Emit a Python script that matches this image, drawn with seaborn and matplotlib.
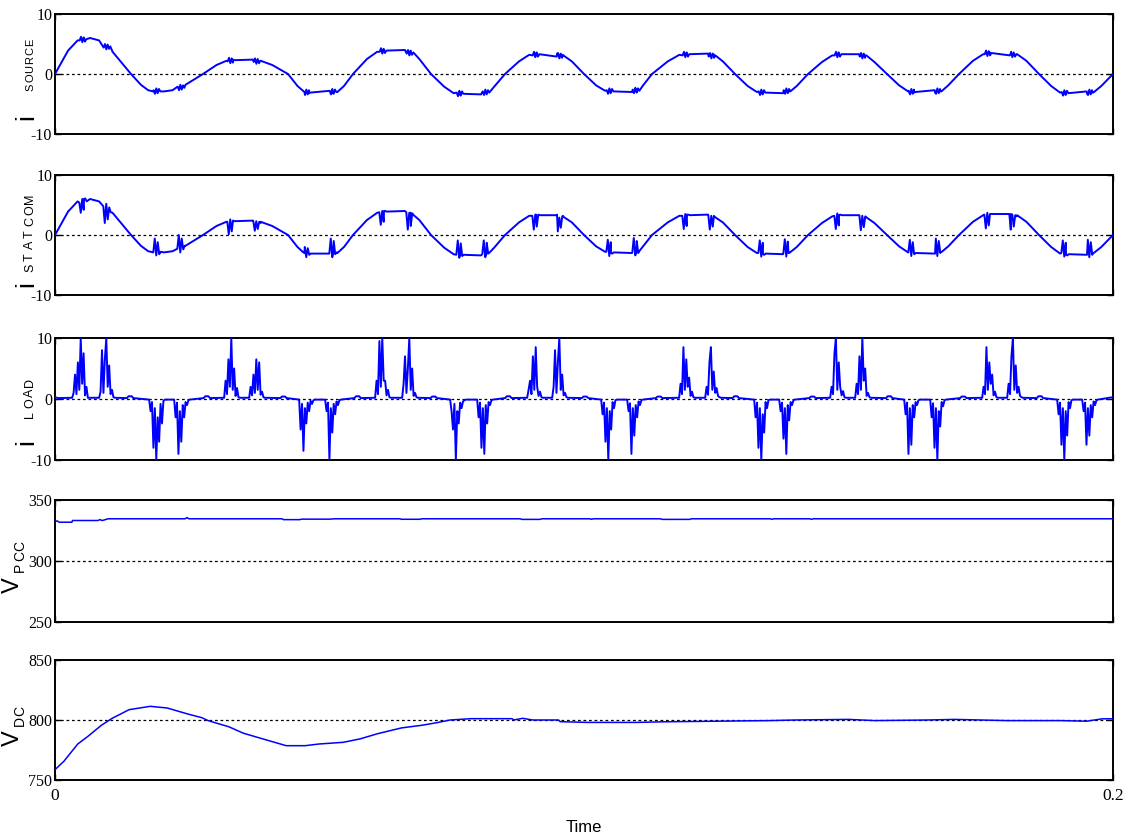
import numpy as np
import pandas as pd
import matplotlib
matplotlib.use("Agg")
import matplotlib.pyplot as plt
import seaborn as sns

# ---------------- data (time in ms) ----------------
src_t = [0, 2.47, 4.27, 5.48, 6.62, 8.33, 10.88, 14.37, 16.24, 17.61, 18.53, 20.61, 22.23, 24.66, 27.98,
         30.53, 32.40, 33.65, 37.43, 38.89, 41.07, 44.05, 45.84, 47.15, 48.02, 52.55, 53.38, 54.63, 56.33,
         58.97, 60.90, 62.19, 66.16, 67.24, 68.87, 71.08, 73.55, 75.35, 76.56, 80.53, 81.53, 83.03, 85.07,
         87.71, 89.64, 90.93, 94.90, 96.02, 97.71, 100.0, 102.30, 103.99, 105.11, 109.08, 109.91, 111.16, 112.86,
         115.83, 118.02, 119.47, 123.44, 124.56, 126.25, 128.55, 130.93, 132.68, 133.84, 137.62, 138.66, 140.22, 142.35,
         144.99, 146.92, 148.21, 151.99, 153.15, 154.90, 157.28, 159.58, 161.27, 162.39, 166.36, 167.36, 168.85, 170.89,
         173.53, 175.46, 176.75, 180.72, 181.88, 183.63, 186.01, 188.31, 190.0, 191.12, 195.09, 196.17, 197.79, 200.0]
src_v = [0, 3.9, 5.6, 6.0, 6.0, 5.6, 3.7, 0, -1.8, -2.7, -2.9, -2.9, -2.7, -1.8, 0,
         1.5, 2.2, 2.4, 2.4, 2.2, 1.5, 0, -2.0, -3.0, -3.2, -3.2, -3.0, -2.0, 0,
         2.5, 3.7, 4.0, 4.0, 3.7, 2.5, 0, -2.1, -3.2, -3.4, -3.4, -3.2, -2.1, 0,
         2.1, 3.2, 3.4, 3.4, 3.2, 2.1, 0, -1.9, -2.8, -3.0, -3.0, -2.8, -1.9, 0,
         2.1, 3.2, 3.4, 3.4, 3.2, 2.1, 0, -2.0, -3.0, -3.2, -3.2, -3.0, -2.0, 0,
         2.0, 3.1, 3.3, 3.3, 3.1, 2.0, 0, -1.9, -2.9, -3.1, -3.1, -2.9, -1.9, 0,
         2.2, 3.3, 3.5, 3.5, 3.3, 2.2, 0, -2.0, -3.1, -3.3, -3.3, -3.1, -2.0, 0]

# times (ms) of the switching events where both currents show ripple / bursts
burst_centers = [5.29, 9.83, 19.28, 23.82, 33.27, 38.19, 47.64, 52.55, 62.00, 67.11, 76.56, 81.47, 90.93, 95.47,
                 104.92, 109.83, 119.28, 124.20, 133.65, 138.38, 148.02, 152.75, 162.01, 166.93, 176.38, 181.10,
                 190.93, 195.66]
# small ripple on the source current
src_ripple = [
    [5.6, 6.2, 5.3, 6.1, 5.4, 5.8], [4.4, 5.0, 4.1, 4.9, 4.2, 4.6],
    [-2.7, -3.3, -2.4, -3.2, -2.5, -2.9], [-2.1, -2.7, -1.8, -2.6, -1.9, -2.3],
    [2.1, 2.7, 1.8, 2.6, 1.9, 2.3], [2.0, 2.6, 1.7, 2.5, 1.8, 2.2],
    [-2.9, -3.5, -2.6, -3.4, -2.7, -3.1], [-2.8, -3.4, -2.5, -3.3, -2.6, -3.0],
    [3.7, 4.3, 3.4, 4.2, 3.5, 3.9], [3.4, 4.0, 3.1, 3.9, 3.2, 3.6],
    [-3.1, -3.7, -2.8, -3.6, -2.9, -3.3], [-2.9, -3.5, -2.6, -3.4, -2.7, -3.1],
    [3.1, 3.7, 2.8, 3.6, 2.9, 3.3], [2.9, 3.5, 2.6, 3.4, 2.7, 3.1],
    [-2.7, -3.3, -2.4, -3.2, -2.5, -2.9], [-2.6, -3.2, -2.3, -3.1, -2.4, -2.8],
    [3.1, 3.7, 2.8, 3.6, 2.9, 3.3], [2.9, 3.5, 2.6, 3.4, 2.7, 3.1],
    [-2.9, -3.5, -2.6, -3.4, -2.7, -3.1], [-2.7, -3.3, -2.4, -3.2, -2.5, -2.9],
    [3.1, 3.7, 2.8, 3.6, 2.9, 3.3], [2.9, 3.5, 2.6, 3.4, 2.7, 3.1],
    [-2.8, -3.4, -2.5, -3.3, -2.6, -3.0], [-2.7, -3.3, -2.4, -3.2, -2.5, -2.9],
    [3.3, 3.9, 3.0, 3.8, 3.1, 3.5], [3.1, 3.7, 2.8, 3.6, 2.9, 3.3],
    [-3.0, -3.6, -2.7, -3.5, -2.8, -3.2], [-2.9, -3.5, -2.6, -3.4, -2.7, -3.1]]

# STATCOM current: same base as source plus oscillation bursts
stat_t = src_t
stat_v = src_v
burst_values = [
    [5.4, 3.7, 6.0, 4.2, 6.1, 5.6], [4.8, 2.0, 5.2, 2.6, 4.6, 3.8],
    [-2.9, -0.6, -3.4, -1.2, -3.2, -2.8], [-2.3, 0.0, -2.9, -0.6, -2.4, -1.8],
    [2.2, 0.1, 2.6, 0.6, 2.4, 2.3], [2.3, 0.7, 2.3, 1.0, 2.2, 2.0],
    [-2.9, -2.0, -3.7, -2.2, -3.3, -3.1], [-3.1, -0.6, -3.7, -1.0, -3.2, -2.9],
    [3.8, 1.7, 4.0, 2.2, 4.0, 3.9], [3.8, 0.9, 3.7, 1.5, 3.6, 3.3],
    [-3.3, -0.9, -3.8, -1.4, -3.5, -3.3], [-3.2, -0.9, -3.7, -1.3, -3.1, -2.9],
    [3.2, 0.9, 3.4, 1.4, 3.4, 3.3], [3.3, 0.6, 2.9, 1.2, 3.1, 3.0],
    [-2.8, -0.8, -3.5, -1.2, -3.1, -2.9], [-2.9, -0.5, -3.4, -1.0, -3.0, -2.6],
    [3.2, 1.0, 3.5, 1.5, 3.4, 3.3], [3.3, 0.9, 3.2, 1.4, 3.1, 2.9],
    [-3.0, -0.9, -3.6, -1.3, -3.3, -3.1], [-3.1, -0.7, -3.6, -1.1, -3.0, -2.8],
    [3.2, 1.0, 3.6, 1.6, 3.4, 3.3], [3.3, 0.8, 3.2, 1.3, 3.1, 2.9],
    [-2.9, -0.8, -3.5, -1.2, -3.2, -3.0], [-3.1, -0.6, -3.5, -1.0, -3.0, -2.8],
    [3.4, 1.1, 3.7, 1.6, 3.5, 3.5], [3.5, 0.9, 3.4, 1.4, 3.3, 3.1],
    [-3.0, -0.9, -3.6, -1.3, -3.4, -3.2], [-3.3, -0.8, -3.7, -1.2, -3.3, -3.0]]

# load current: spike groups
load_centers = [4.73, 9.83, 19.28, 24.01, 33.46, 38.19, 47.64, 52.55, 62.00, 67.11, 76.18, 81.29, 90.74, 95.47,
                104.73, 109.64, 119.47, 124.39, 133.65, 138.38, 148.02, 152.75, 162.01, 166.93, 176.75, 181.48,
                190.93, 195.66]
load_groups = [
    [0.2, 1.0, 4.0, 0.8, 6.0, 1.5, 10.0, 2.5, 7.5, 0.6, 2.0, 0.2],
    [0.2, 1.2, 8.0, 1.0, 6.5, 10.0, 2.0, 5.5, 0.8, 1.5, 0.3, 0.2],
    [-0.1, -2.0, -0.5, -8.0, -1.5, -10.0, -3.0, -7.0, -0.8, -4.0, -0.3, -0.1],
    [-0.1, -3.0, -0.6, -9.0, -2.0, -7.0, -1.0, -3.0, -0.5, -1.0, -0.2, -0.1],
    [0.2, 3.0, 0.8, 6.5, 2.0, 10.0, 1.5, 5.0, 0.5, 1.8, 0.3, 0.2],
    [0.2, 2.0, 0.6, 4.0, 1.0, 6.5, 1.5, 6.0, 0.7, 1.2, 0.3, 0.2],
    [-0.1, -5.0, -0.8, -8.5, -1.5, -4.0, -0.6, -2.0, -0.3, -0.8, -0.2, -0.1],
    [-0.1, -2.0, -0.6, -10.0, -1.5, -5.5, -0.8, -2.5, -0.4, -1.0, -0.2, -0.1],
    [0.2, 3.0, 0.8, 9.5, 2.0, 10.0, 3.0, 3.0, 0.6, 1.5, 0.3, 0.2],
    [0.2, 2.5, 7.0, 1.0, 5.0, 10.0, 1.5, 5.0, 0.5, 1.0, 0.3, 0.2],
    [-0.1, -2.0, -5.0, -0.8, -10.0, -2.0, -4.0, -0.6, -1.5, -0.4, -0.2, -0.1],
    [-0.1, -3.0, -0.6, -8.0, -1.5, -9.0, -1.0, -4.0, -0.5, -1.0, -0.2, -0.1],
    [0.2, 1.5, 3.0, 0.8, 7.0, 1.5, 8.5, 2.0, 0.5, 1.2, 0.3, 0.2],
    [0.2, 2.0, 8.0, 1.0, 6.0, 10.0, 1.5, 4.0, 0.6, 1.0, 0.3, 0.2],
    [-0.1, -2.5, -0.6, -7.0, -1.5, -10.0, -2.0, -5.0, -0.5, -1.5, -0.2, -0.1],
    [-0.1, -2.0, -0.7, -9.0, -1.5, -6.0, -1.0, -3.0, -0.4, -1.0, -0.2, -0.1],
    [0.2, 2.5, 0.8, 8.5, 1.5, 6.5, 2.0, 3.5, 0.5, 1.2, 0.3, 0.2],
    [0.2, 2.0, 0.7, 6.0, 8.5, 1.5, 4.5, 1.0, 1.8, 0.5, 0.3, 0.2],
    [-0.1, -3.0, -0.6, -8.0, -1.5, -10.0, -2.5, -5.5, -0.5, -1.5, -0.2, -0.1],
    [-0.1, -2.0, -0.6, -6.5, -1.5, -9.0, -1.0, -3.5, -0.5, -1.0, -0.2, -0.1],
    [0.2, 2.0, 0.8, 7.5, 10.0, 1.5, 6.0, 2.0, 0.6, 1.3, 0.3, 0.2],
    [0.2, 2.5, 0.8, 7.0, 1.5, 10.0, 3.0, 5.0, 0.5, 1.0, 0.3, 0.2],
    [-0.1, -2.5, -0.6, -9.0, -1.5, -7.5, -1.0, -3.0, -0.5, -1.0, -0.2, -0.1],
    [-0.1, -3.0, -0.7, -8.0, -1.5, -10.0, -2.0, -4.5, -0.5, -1.2, -0.2, -0.1],
    [0.2, 2.0, 0.8, 8.5, 1.5, 6.0, 2.5, 4.0, 0.6, 1.2, 0.3, 0.2],
    [0.2, 2.5, 0.8, 7.0, 10.0, 1.5, 5.5, 1.0, 2.0, 0.5, 0.3, 0.2],
    [-0.1, -2.5, -0.6, -7.5, -1.5, -10.0, -2.0, -6.0, -0.5, -1.5, -0.2, -0.1],
    [-0.1, -2.0, -0.6, -7.5, -1.5, -6.0, -1.0, -3.0, -0.4, -1.0, -0.2, -0.1]]
load_base_t = [0.0, 0.6, 13.6, 13.9, 14.5, 14.8, 28.1, 28.4, 29.0, 29.3, 42.6, 42.9, 43.5, 43.8,
               56.6, 56.9, 57.5, 57.8, 71.0, 71.3, 71.9, 72.2, 85.1, 85.4, 86.0, 86.3, 99.6, 99.9, 100.5, 100.8,
               113.6, 113.9, 114.5, 114.8, 128.1, 128.4, 129.0, 129.3, 142.6, 142.9, 143.5, 143.8,
               157.1, 157.4, 158.0, 158.3, 171.1, 171.4, 172.0, 172.3, 185.6, 185.9, 186.5, 186.8, 200.0]
load_base_v = [0.3, 0.15, 0.15, 0.45, 0.45, 0.15, 0.15, 0.45, 0.45, 0.15, 0.15, 0.4, 0.4, 0.15,
               0.15, 0.45, 0.45, 0.15, 0.15, 0.4, 0.4, 0.15, 0.15, 0.45, 0.45, 0.15, 0.15, 0.4, 0.4, 0.15,
               0.15, 0.4, 0.4, 0.15, 0.15, 0.45, 0.45, 0.15, 0.15, 0.4, 0.4, 0.15,
               0.15, 0.45, 0.45, 0.15, 0.15, 0.4, 0.4, 0.15, 0.15, 0.45, 0.45, 0.15, 0.3]

vpcc_t = [0, 0.4, 0.8, 3.2, 3.3, 8.1, 8.5, 8.9, 9.3, 10.0, 24.6, 24.95, 25.3, 42.9, 43.2, 46.3, 46.6, 51.9,
          52.9, 65.2, 65.5, 69.0, 69.3, 87.9, 88.3, 91.7, 92.0, 101.1, 101.4, 101.8, 114.4, 114.8, 120.0,
          120.3, 135.2, 135.5, 135.9, 142.7, 143.0, 143.4, 200.0]
vpcc_v = [332.2, 332.9, 331.8, 331.8, 333.2, 333.2, 333.9, 333.2, 333.6, 334.6, 334.6, 335.6, 334.6, 334.6,
          333.9, 333.9, 334.3, 334.3, 334.6, 334.6, 334.2, 334.2, 334.6, 334.6, 334.1, 334.1, 334.6, 334.6,
          334.2, 334.6, 334.6, 334.1, 334.1, 334.6, 334.6, 334.2, 334.6, 334.6, 334.2, 334.6, 334.6]

vdc_t = [0.0, 1.7, 4.3, 6.2, 8.8, 10.8, 14.0, 16.0, 18.0, 21.2, 25.1, 27.7, 29.0, 32.9, 35.6, 40.8, 43.7,
         47.3, 49.9, 54.5, 57.7, 61.0, 65.5, 69.5, 72.1, 74.7, 78.6, 86.4, 86.7, 88.4, 90.3, 95.2, 95.5,
         100.7, 110.0, 115.0, 125.0, 135.0, 140.0, 150.0, 155.0, 165.0, 170.0, 180.0, 190.0, 195.0, 198.0, 200.0]
vdc_v = [758.6, 765.7, 780.0, 786.3, 795.7, 801.4, 808.6, 810.0, 811.4, 810.0, 805.0, 802.0, 799.4, 794.3,
         789.0, 782.3, 778.6, 778.6, 780.0, 781.4, 784.3, 788.6, 793.4, 795.7, 797.7, 800.0, 801.1, 801.1,
         800.0, 801.4, 800.0, 800.0, 798.6, 798.0, 798.0, 798.5, 799.0, 799.5, 800.0, 800.5, 799.5, 800.0,
         800.5, 799.5, 799.5, 799.0, 801.0, 801.0]

y_ticks = [[-10, 0, 10], [-10, 0, 10], [-10, 0, 10], [250, 300, 350], [750, 800, 850]]
y_ticklabels = [["-10", "0", "10"], ["-10", "0", "10"], ["-10", "0", "10"],
                ["250", "300", "350"], ["750", "800", "850"]]
x_ticks = [0, 0.2]
x_ticklabels = ["0", "0.2"]


# ---------------- build frames ----------------
def merged(base_t, base_v, centers, groups, step):
    tt, vv = list(base_t), list(base_v)
    for c, vals in zip(centers, groups):
        n = len(vals)
        for k, v in enumerate(vals):
            tt.append(c + (k - (n - 1) / 2) * step)
            vv.append(v)
    df = pd.DataFrame({"t": tt, "v": vv}).sort_values("t")
    df["t"] = df["t"] / 1000.0
    return df


src_df = merged(src_t, src_v, burst_centers, src_ripple, 0.25)
stat_df = merged(stat_t, stat_v, burst_centers, burst_values, 0.28)
load_df = merged(load_base_t, load_base_v, load_centers, load_groups, 0.27)
vpcc_df = pd.DataFrame({"t": np.array(vpcc_t) / 1000.0, "v": vpcc_v})
vdc_df = pd.DataFrame({"t": np.array(vdc_t) / 1000.0, "v": vdc_v})
frames = [src_df, stat_df, load_df, vpcc_df, vdc_df]

# ---------------- figure ----------------
sns.set_theme(style="white")
plt.rcParams["font.family"] = ["Liberation Sans", "DejaVu Sans"]

W, H = 1127, 840
fig = plt.figure(figsize=(W / 100, H / 100), dpi=100)
panels_px = [(14, 134), (175, 295), (338, 460), (500, 622), (660, 780)]
L, R = 55, 1113
BLUE = "#0000ff"

for i, ((top, bot), df) in enumerate(zip(panels_px, frames)):
    ax = fig.add_axes([L / W, 1 - bot / H, (R - L) / W, (bot - top) / H])
    lw = 1.4 if i < 3 else 1.1
    sns.lineplot(data=df, x="t", y="v", ax=ax, color=BLUE, linewidth=lw,
                 estimator=None, sort=False, legend=False, zorder=3)
    lo, mid, hi = y_ticks[i]
    ax.axhline(mid, color="black", linewidth=0.9, linestyle=(0, (2.2, 2.2)), zorder=2)
    ax.set_xlim(0, 0.2)
    ax.set_ylim(lo, hi)
    ax.set_xlabel("")
    ax.set_ylabel("")
    ax.set_yticks(y_ticks[i], y_ticklabels[i], fontfamily="Liberation Serif", fontsize=11.5)
    if i == 4:
        ax.set_xticks(x_ticks, x_ticklabels, fontfamily="Liberation Serif", fontsize=12.5)
    else:
        ax.set_xticks(x_ticks, ["", ""])
    ax.tick_params(axis="y", direction="in", length=4, width=1, left=True, right=True,
                   color="black", pad=2, labelcolor="black")
    ax.tick_params(axis="x", direction="in", length=4, width=1, bottom=True, top=True,
                   color="black", pad=6, labelcolor="black")
    for s in ax.spines.values():
        s.set_visible(True)
        s.set_color("black")
        s.set_linewidth(1.4)
    ax.set_facecolor("white")


def px(x, y):
    return x / W, 1 - y / H


def rtext(x, y, s, size):
    fig.text(*px(x, y), s, rotation=90, rotation_mode="anchor", ha="left", va="baseline",
             fontsize=size, color="black")


def spaced(x, y, word, size, pitch):
    for k, ch in enumerate(word):
        rtext(x, y - k * pitch, ch, size)


# y-axis labels: large symbol + letter-spaced subscript, reading bottom to top
rtext(33, 120, "i", 19)
spaced(33, 91, "SOURCE", 8, 9.0)
rtext(33, 287, "i", 19)
spaced(33, 272, "STATCOM", 9, 11.4)
rtext(33, 445, "i", 19)
spaced(33, 418, "LOAD", 9, 10.3)
rtext(19, 593, "V", 17)
spaced(24, 572, "PCC", 10, 10.7)
rtext(19, 746, "V", 17)
spaced(24, 726, "DC", 10, 10.0)

fig.text(*px(584, 828), "Time", ha="center", va="center", fontsize=12, color="black")

fig.savefig("out.png", dpi=100, facecolor="white")
